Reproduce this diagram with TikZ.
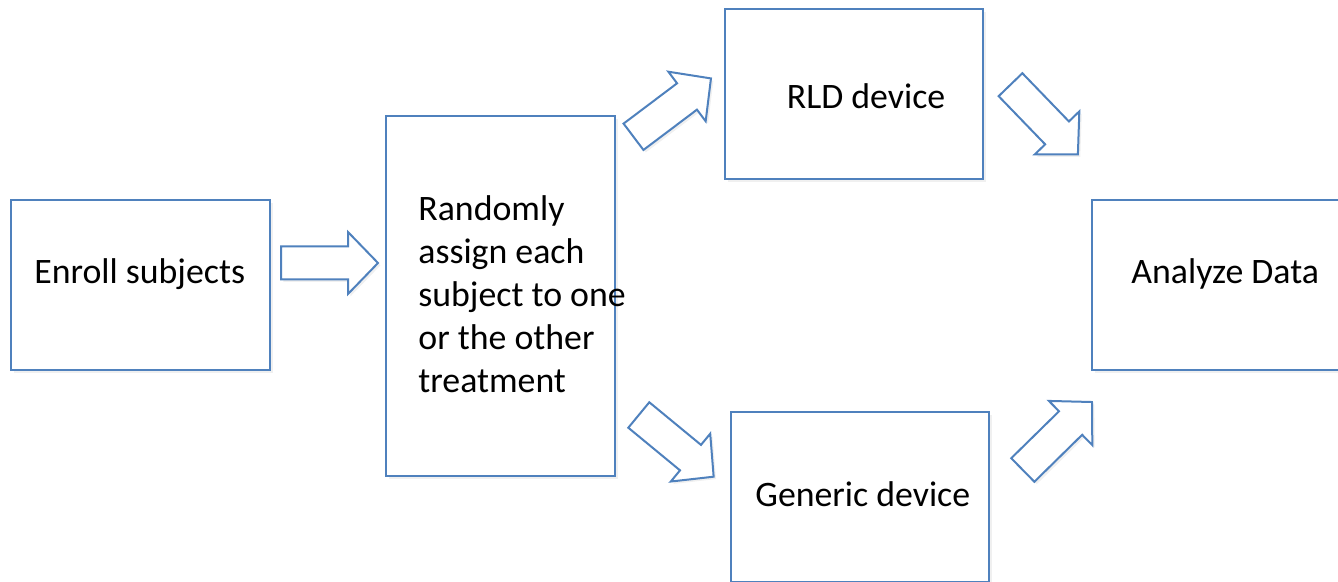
\documentclass[tikz,border=0pt]{standalone}
\usepackage{fontspec}
\setmainfont{Carlito}
\usetikzlibrary{shadows}
\definecolor{boxblue}{RGB}{79,129,189}
\begin{document}
\begin{tikzpicture}[x=0.5pt,y=-0.5pt,
  box/.style={draw=boxblue, line width=1pt, fill=white, inner sep=0pt, outer sep=0pt, anchor=north west,
    drop shadow={shadow xshift=1.5pt, shadow yshift=-1.5pt, opacity=0.12}},
  lbl/.style={anchor=base west, inner sep=0pt, align=left, font=\fontsize{17.9}{21.5}\selectfont},
  barrow/.pic={\draw[boxblue, line width=1pt, fill=white, line join=miter,
      drop shadow={shadow xshift=1.2pt, shadow yshift=-1.2pt, opacity=0.12}]
      (0,-16.5) -- (67,-16.5) -- (67,-31) -- (97,0) -- (67,31) -- (67,16.5) -- (0,16.5) -- cycle;}]
\useasboundingbox (0,0) rectangle (1338,582);
% boxes
\node[box, minimum width=129.5pt, minimum height=85pt] (enroll) at (11,200) {};
\node[box, minimum width=114.5pt, minimum height=180pt] (assign) at (386,116) {};
\node[box, minimum width=129pt, minimum height=85pt] (rld) at (725,9) {};
\node[box, minimum width=129pt, minimum height=85pt] (generic) at (731,412) {};
\node[box, minimum width=128pt, minimum height=85pt] (analyze) at (1092,200) {};
% labels
\node[lbl] (tenroll) at (34,284) {Enroll subjects};
\node[lbl, anchor=north west] (tassign) at (418,195) {Randomly\\assign each\\subject to one\\or the other\\treatment};
\node[lbl, anchor=base] (trld) at (866,109) {RLD device};
\node[lbl] (tgeneric) at (755,506) {Generic device};
\node[lbl] (tanalyze) at (1131,284) {Analyze Data};
% block arrows
\coordinate (a1) at (281,263);
\coordinate (a2) at (633.5,136.8);
\coordinate (a3) at (638.8,415);
\coordinate (a4) at (1010.5,84.7);
\coordinate (a5) at (1022.8,470);
\pic at (a1) {barrow};
\pic[rotate=37] at (a2) {barrow};
\pic[rotate=-39.5] at (a3) {barrow};
\pic[rotate=-46] at (a4) {barrow};
\pic[rotate=44.5] at (a5) {barrow};
\end{tikzpicture}
\end{document}
